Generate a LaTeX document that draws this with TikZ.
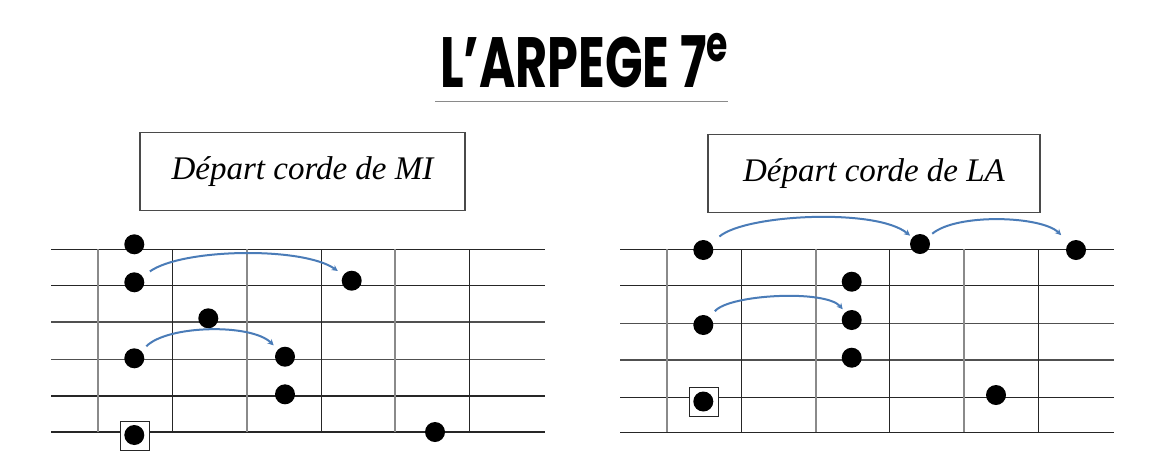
\documentclass[tikz,border=0pt]{standalone}
\usepackage{fontspec}
\setmainfont{Liberation Serif}
\newfontfamily\titlefont{Poppins}
\usetikzlibrary{arrows.meta}
\definecolor{arcblue}{HTML}{4A7CB8}
\definecolor{darkline}{HTML}{262626}
\definecolor{midline}{HTML}{505050}
\definecolor{greyline}{HTML}{8A8A8A}
\definecolor{boxline}{HTML}{4A4A4A}
\begin{document}
\begin{tikzpicture}[x=1pt,y=-1pt,
  dot/.style={circle,fill=black,minimum size=20pt,inner sep=0pt},
  sqbox/.style={draw=darkline,line width=1pt,minimum size=29pt,inner sep=0pt},
  labelbox/.style={draw=boxline,line width=1.3pt,minimum height=78pt,inner sep=0pt,font=\fontsize{33}{38}\selectfont\itshape},
  arc/.style={arcblue,line width=2pt,-{Stealth[length=6pt,width=6pt]}},
  darkstr/.style={darkline,line width=1.4pt},
  midstr/.style={midline,line width=1.4pt},
  greystr/.style={greyline,line width=2pt}]
\useasboundingbox (0,0) rectangle (1169,475);
\fill[white] (0,0) rectangle (1169,475);

% title
\node[anchor=base west,inner sep=0pt] (title) at (440,87)
  {\resizebox{290pt}{54pt}{\titlefont\bfseries L’ARPEGE 7\textsuperscript{e}}};
\draw[greyline,line width=1.2pt] (435,101.7) -- (728,101.7);

% label boxes
\node[labelbox,minimum width=325pt] (tl) at (302.5,171.5) {Départ corde de MI};
\node[labelbox,minimum width=332pt] (tr) at (874,173.3) {Départ corde de LA};

% left fretboard
\foreach \y/\s in {249.3/darkstr,285.5/darkstr,322/midstr,359.3/midstr,396/darkstr,432/darkstr}
  \draw[\s] (51,\y) -- (545,\y);
\foreach \x/\s in {98.3/greystr,172.7/darkstr,246.7/greystr,321.7/darkstr,394.7/greystr,469.3/darkstr}
  \draw[\s] (\x,249.3) -- (\x,432);

% right fretboard
\foreach \y/\s in {249.3/darkstr,285.7/darkstr,323.3/midstr,360/midstr,397.3/darkstr,432.3/darkstr}
  \draw[\s] (620,\y) -- (1114,\y);
\foreach \x/\s in {667.3/greystr,741.7/darkstr,815.7/greystr,889.3/darkstr,964/greystr,1038.3/darkstr}
  \draw[\s] (\x,249.3) -- (\x,432.3);

% left dots
\node[sqbox,fill=white] (sqL) at (134.7,435.7) {};
\node[dot] (L1) at (134.3,244.3) {};
\node[dot] (L2) at (134.3,282.3) {};
\node[dot] (L3) at (208.3,318.3) {};
\node[dot] (L4) at (134.3,358.3) {};
\node[dot] (L5) at (285,356.7) {};
\node[dot] (L6) at (285,394.3) {};
\node[dot] (L7) at (351.7,280.7) {};
\node[dot] (L8) at (134.3,435) {};
\node[dot] (L9) at (435,432) {};

% right dots
\node[sqbox,fill=white] (sqR) at (703.5,402.3) {};
\node[dot] (R1) at (703.3,250) {};
\node[dot] (R2) at (920,244) {};
\node[dot] (R3) at (1076,250) {};
\node[dot] (R4) at (851.7,281.7) {};
\node[dot] (R5) at (703.3,325) {};
\node[dot] (R6) at (851.7,320) {};
\node[dot] (R7) at (851.7,357.7) {};
\node[dot] (R8) at (703.3,401.5) {};
\node[dot] (R9) at (996,395) {};

% arcs
\draw[arc,shorten <=19pt,shorten >=17pt] (L2.center) to[out=35,in=145,looseness=0.7] (L7.center);
\draw[arc,shorten <=17pt,shorten >=16pt] (L4.center) to[out=45,in=135,looseness=0.8] (L5.center);
\draw[arc,shorten <=21pt,shorten >=13pt] (R1.center) to[out=40,in=140,looseness=0.66] (R2.center);
\draw[arc,shorten <=16pt,shorten >=21pt] (R2.center) to[out=40,in=135,looseness=0.79] (R3.center);
\draw[arc,shorten <=18pt,shorten >=14pt] (R5.center) to[out=50,in=130,looseness=0.69] (R6.center);
\end{tikzpicture}
\end{document}
